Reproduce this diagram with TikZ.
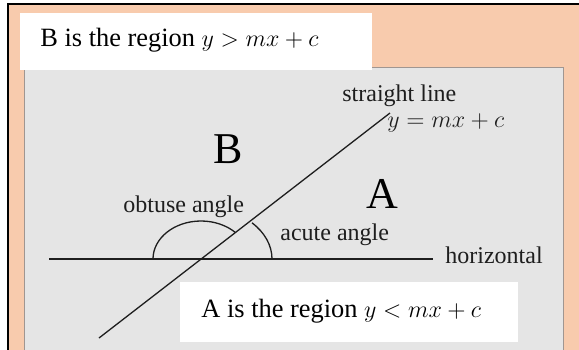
\documentclass[tikz,border=0pt]{standalone}
\usepackage{fontspec}
\setmainfont{Liberation Serif}
\definecolor{peach}{RGB}{248,203,173}
\definecolor{panelgray}{RGB}{229,229,229}
\definecolor{panelrule}{RGB}{160,150,145}
\definecolor{ink}{RGB}{30,30,30}
\tikzset{
  regionbox/.style={fill=white, draw=none},
  regiontext/.style={anchor=base west, inner sep=0pt, font=\fontsize{13.2}{16}\selectfont},
  bigletter/.style={anchor=base west, inner sep=0pt, font=\fontsize{22}{26}\selectfont},
  figlabel/.style={anchor=base west, inner sep=0pt, font=\fontsize{12}{14}\selectfont, text=ink},
  slantline/.style={line width=0.65pt, ink},
  horizline/.style={line width=1pt, ink},
  anglearc/.style={line width=0.65pt, ink}
}

\begin{document}
\begin{tikzpicture}[x=0.5pt, y=-0.5pt]
  \useasboundingbox (0,0) rectangle (579,349);
  \clip (0,0) rectangle (579,349);
  % frame and panel
  \fill[white] (0,0) rectangle (579,349);
  \draw[fill=peach, line width=1pt] (8.3,4.3) rectangle (600,370);
  \draw[fill=panelgray, draw=panelrule, line width=0.5pt] (24,67.5) rectangle (563,370);
  \fill[regionbox] (20,12.7) rectangle (372,70);
  \fill[regionbox] (180,282) rectangle (518,342);

  % lines
  \coordinate (hleft) at (49,259);
  \coordinate (hright) at (433,259);
  \coordinate (sbottom) at (99,338);
  \coordinate (stop) at (390,113);
  \coordinate (obtfoot) at (153,259);
  \coordinate (acufoot) at (272,259);
  \draw[horizline] (hleft) -- (hright);
  \draw[slantline] (sbottom) -- (stop);
  \draw[anglearc] (obtfoot) arc[start angle=-180, end angle=-44.4, x radius=48, y radius=38];
  \draw[anglearc] (acufoot) arc[start angle=0, end angle=-44.1, x radius=71, y radius=52];

  % texts
  \node[regiontext] (btext) at (40,46.7) {B is the region $y>mx+c$};
  \node[regiontext] (atext) at (201,317) {A is the region $y<mx+c$};
  \node[bigletter] (bletter) at (213,163) {B};
  \node[bigletter] (aletter) at (366,208) {A};
  \node[figlabel] (straight) at (342,101) {straight line};
  \node[figlabel] (equation) at (387,127) {$y=mx+c$};
  \node[figlabel] (obtuse) at (123,212) {obtuse angle};
  \node[figlabel] (acute) at (280,240) {acute angle};
  \node[figlabel] (horiz) at (445,263) {horizontal};
\end{tikzpicture}
\end{document}
